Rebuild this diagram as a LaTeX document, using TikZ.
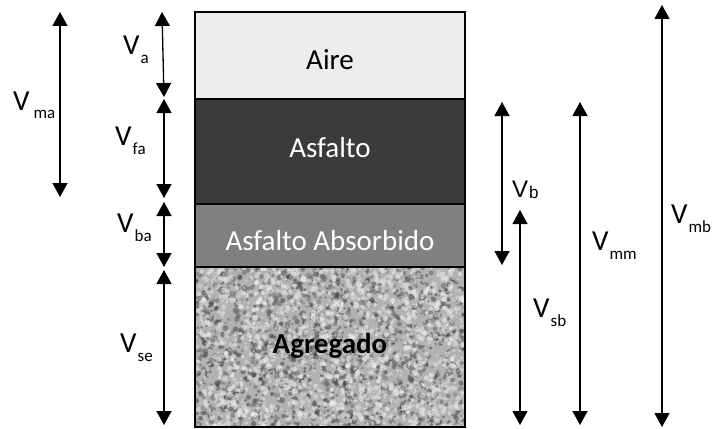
\documentclass[tikz,border=0pt]{standalone}
\usepackage{fontspec}
\setmainfont{Carlito}
\newfontfamily\arialfont{Liberation Sans}
\usetikzlibrary{arrows.meta}

\definecolor{airfill}{HTML}{EDEDED}
\definecolor{binderfill}{HTML}{3B3B3B}
\definecolor{absfill}{HTML}{808080}
\definecolor{aggfill}{HTML}{B2B2B2}

% volume symbol with a lowered subscript
\newcommand{\vol}[1]{V\kern1pt\raisebox{-9pt}{\fontsize{17}{17}\selectfont #1}}

\tikzset{
  dimline/.style={line width=1.3pt,
    {Triangle[width=15pt,length=14pt]}-{Triangle[width=15pt,length=14pt]}},
  vlabel/.style={anchor=base west, inner sep=0pt, font=\fontsize{29}{29}\selectfont},
  layertext/.style={anchor=base, inner sep=0pt, font=\fontsize{29}{29}\selectfont},
  layeredge/.style={draw=black, line width=2.5pt}
}

\begin{document}
\begin{tikzpicture}[x=1pt,y=-1pt]
\useasboundingbox (0,0) rectangle (714,428);

% layers of the compacted mix
\fill[airfill] (195,12) rectangle (465,99);
\fill[binderfill] (195,99) rectangle (465,204);
\fill[absfill] (195,204) rectangle (465,267);
\fill[aggfill] (195,267) rectangle (465,427);

% grainy aggregate texture: soft dark and light specks
\begin{scope}
  \clip (195,267) rectangle (465,427);
  \pgfmathsetseed{7}
  \foreach \i in {1,...,1700}{
    \pgfmathsetmacro{\px}{195+270*rnd}
    \pgfmathsetmacro{\py}{267+160*rnd}
    \pgfmathsetmacro{\rr}{1.0+2.0*rnd}
    \pgfmathsetmacro{\gg}{55+30*rnd}
    \fill[black!\gg!white, opacity=0.45] (\px,\py) circle[radius=\rr pt];
  }
  \foreach \i in {1,...,1700}{
    \pgfmathsetmacro{\px}{195+270*rnd}
    \pgfmathsetmacro{\py}{267+160*rnd}
    \pgfmathsetmacro{\rr}{1.0+2.0*rnd}
    \pgfmathsetmacro{\gg}{2+12*rnd}
    \fill[black!\gg!white, opacity=0.5] (\px,\py) circle[radius=\rr pt];
  }
\end{scope}

% outlines
\draw[layeredge] (195,12) rectangle (465,427);
\draw[layeredge] (195,99) -- (465,99);
\draw[layeredge] (195,204) -- (465,204);
\draw[layeredge] (195,267) -- (465,267);

% layer names
\node[layertext] (aire) at (330,70) {Aire};
\node[layertext, text=white] (asfalto) at (330,157) {Asfalto};
\node[layertext, text=white] (absorbido) at (330,250) {Asfalto Absorbido};
\node[layertext, font=\fontsize{29}{29}\selectfont\bfseries] (agregado) at (330,353) {Agregado};

% end points of the dimension lines
\coordinate (ma1) at (60,12);   \coordinate (ma2) at (60,197);
\coordinate (a1) at (162,12);   \coordinate (a2) at (164,97);
\coordinate (fa1) at (164,99);  \coordinate (fa2) at (164,198);
\coordinate (ba1) at (164,202); \coordinate (ba2) at (164,267);
\coordinate (se1) at (164,270); \coordinate (se2) at (164,425);
\coordinate (b1) at (502,102);  \coordinate (b2) at (502,265);
\coordinate (sb1) at (520,210); \coordinate (sb2) at (520,425);
\coordinate (mm1) at (580,102); \coordinate (mm2) at (580,425);
\coordinate (mb1) at (662,5);   \coordinate (mb2) at (662,427);

\draw[dimline] (ma1) -- (ma2);
\draw[dimline] (a1) -- (a2);
\draw[dimline] (fa1) -- (fa2);
\draw[dimline] (ba1) -- (ba2);
\draw[dimline] (se1) -- (se2);
\draw[dimline] (b1) -- (b2);
\draw[dimline] (sb1) -- (sb2);
\draw[dimline] (mm1) -- (mm2);
\draw[dimline] (mb1) -- (mb2);

% volume labels
\node[vlabel] (lma) at (13,110) {V\kern4pt\raisebox{-8pt}{\fontsize{17}{17}\selectfont ma}};
\node[vlabel] (la) at (123,55) {\vol{a}};
\node[vlabel] (lfa) at (115,145) {\vol{fa}};
\node[vlabel] (lba) at (117,232) {\vol{ba}};
\node[vlabel] (lse) at (120,352) {\vol{se}};
\node[vlabel, font=\fontsize{24}{24}\arialfont] (lb) at (512,197) {V\kern1pt\raisebox{-1pt}{\fontsize{17}{17}\selectfont b}};
\node[vlabel] (lsb) at (533,317) {\vol{sb}};
\node[vlabel] (lmm) at (592,250) {\vol{mm}};
\node[vlabel] (lmb) at (671,223) {\vol{mb}};
\end{tikzpicture}
\end{document}
